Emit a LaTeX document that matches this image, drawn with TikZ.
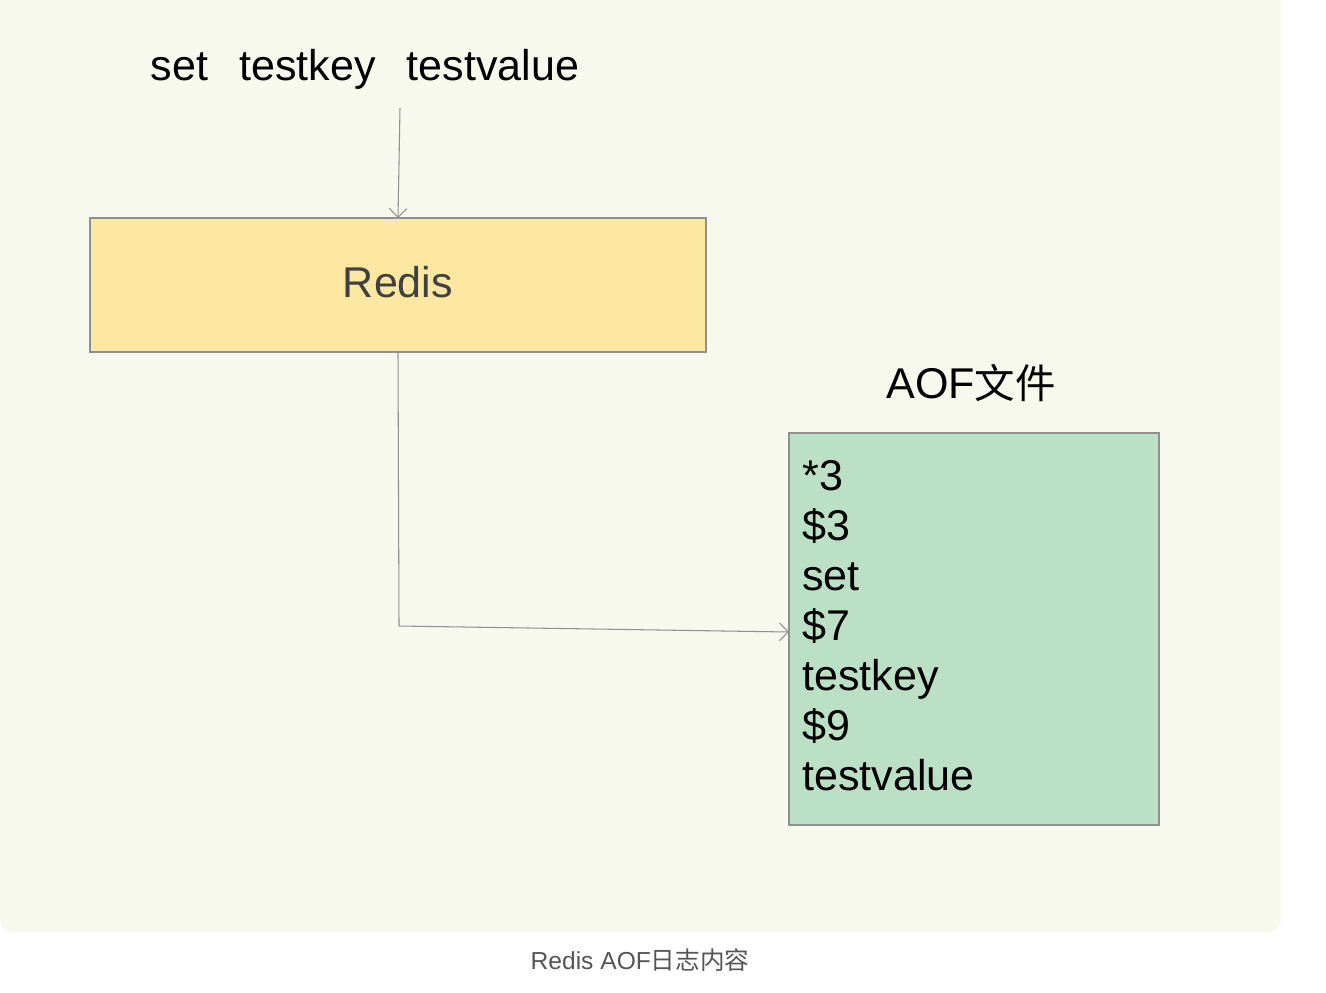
\documentclass[tikz,border=0pt]{standalone}
\usepackage{fontspec}
\setmainfont{Liberation Sans}
\newfontfamily\cjk{Noto Sans CJK SC}
\usetikzlibrary{arrows.meta, positioning}

\definecolor{panelbg}{HTML}{F7F8EE}
\definecolor{redisfill}{HTML}{FCE8A0}
\definecolor{aoffill}{HTML}{BCE0C5}
\definecolor{edgegray}{HTML}{909090}
\definecolor{capgray}{HTML}{555555}

\tikzset{
  bigtext/.style={font=\fontsize{24.5pt}{29pt}\selectfont, inner sep=0pt},
  box/.style={draw=edgegray, line width=0.7pt},
  link/.style={draw=edgegray, line width=0.6pt, -{Straight Barb[length=5pt,width=10pt]}},
}

\begin{document}
\begin{tikzpicture}[x=0.02cm, y=-0.02cm]
            \useasboundingbox (0,0) rectangle (1326,992);
            % panel
            \fill[panelbg, rounded corners=7pt] (0,-10) rectangle (1281,932);

            % command
            \node[bigtext, anchor=base] (cmd) at (365,80) {set\hspace{0.72em}testkey\hspace{0.72em}testvalue};
            \coordinate (cmdfoot) at (400,108);

            % redis
            \draw[box, fill=redisfill] (90,218) rectangle (706,352);
            \node[bigtext, text=black!75] (redis) at (398,282) {Redis};
            \coordinate (redistop) at (398,218);
            \coordinate (redisfoot) at (398,352);
            \draw[link] (cmdfoot) -- (redistop);

            % aof file
            \node[bigtext] (aoftitle) at (971,383) {AOF{\cjk\fontsize{23pt}{28pt}\selectfont 文件}};
            \draw[box, fill=aoffill] (789,433) rectangle (1159,825);
            \coordinate (aofin) at (789,632);
            \foreach \txt [count=\i] in {*3, \$3, set, \$7, testkey, \$9, testvalue}
                \node[bigtext, anchor=base west] (aof\i) at (802,440+50*\i) {\txt};

            \coordinate (bend) at (399,626);
            \draw[edgegray, line width=0.6pt] (redisfoot) -- (bend);
            \draw[link] (bend) -- (aofin);

            % caption
            \node[font=\fontsize{14pt}{17pt}\selectfont, text=capgray] (caption) at (640,960) {Redis AOF{\cjk 日志内容}};
        \end{tikzpicture}
\end{document}
